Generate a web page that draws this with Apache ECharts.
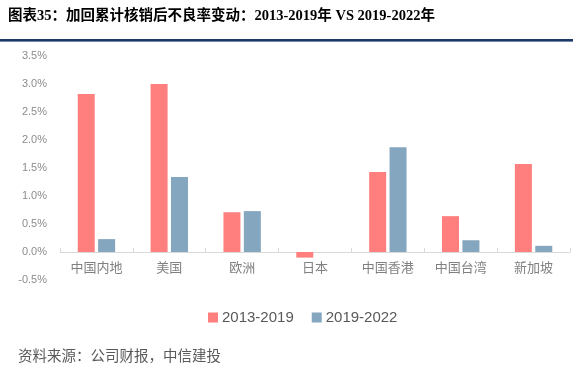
<!DOCTYPE html>
<html><head><meta charset="utf-8">
<script src="https://cdn.jsdelivr.net/npm/echarts@6/dist/echarts.min.js"></script>
<style>html,body{margin:0;padding:0;background:#fff}#c{width:573px;height:374px}</style>
</head><body><div id="c"></div>
<script>
var categories = ['中国内地','美国','欧洲','日本','中国香港','中国台湾','新加坡'];
var series1Name = '2013-2019';
var series2Name = '2019-2022';
var series1 = [2.82, 3.00, 0.71, -0.10, 1.43, 0.64, 1.57];
var series2 = [0.23, 1.34, 0.73, 0.00, 1.87, 0.21, 0.11];
var titleText = '图表35：加回累计核销后不良率变动：2013-2019年 VS 2019-2022年';
var sourceText = '资料来源：公司财报，中信建投';

var chart = echarts.init(document.getElementById('c'), null, {renderer:'canvas'});
chart.setOption({
  animation:false,
  graphic:[
    {type:'text', left:8, top:9, style:{text:titleText, font:'bold 14.5px "Liberation Serif","Noto Sans CJK SC"', fill:'#000'}},
    {type:'rect', left:0, top:39, shape:{width:573,height:2}, style:{fill:'#1f3864'}},
    {type:'rect', left:0, top:41, shape:{width:573,height:1}, style:{fill:'#6f86a8'}},
    {type:'text', left:18, top:348, style:{text:sourceText, font:'14.5px "Noto Sans CJK SC"', fill:'#595959'}}
  ],
  legend:{
    left:203, top:305, itemWidth:10, itemHeight:10, itemGap:18,
    icon:'rect',
    textStyle:{fontSize:15, color:'#595959', fontFamily:'Liberation Sans', padding:[0,0,0,-1]},
    data:[series1Name, series2Name]
  },
  grid:{left:60, right:3, top:56, bottom:94, containLabel:false},
  xAxis:{
    type:'category', data:categories,
    axisLine:{onZero:true, lineStyle:{color:'#d9d9d9', width:1}},
    axisTick:{show:true, inside:true, length:4, lineStyle:{color:'#d9d9d9'}},
    axisLabel:{color:'#808080', fontSize:13, fontFamily:'Noto Sans CJK SC', margin:-19},
    position:'bottom'
  },
  yAxis:{
    type:'value', min:-0.5, max:3.5, interval:0.5,
    splitLine:{show:false},
    axisLine:{show:false}, axisTick:{show:false},
    axisLabel:{color:'#8c8c8c', fontSize:11, fontFamily:'Liberation Sans', margin:13,
      formatter:function(v){return v.toFixed(1)+'%';}}
  },
  series:[
    {name:series1Name, type:'bar', data:series1, barWidth:17, barGap:'20%', itemStyle:{color:'#ff7f7f'}},
    {name:series2Name, type:'bar', data:series2, barWidth:17, itemStyle:{color:'#84a6be'}}
  ]
});
</script></body></html>
